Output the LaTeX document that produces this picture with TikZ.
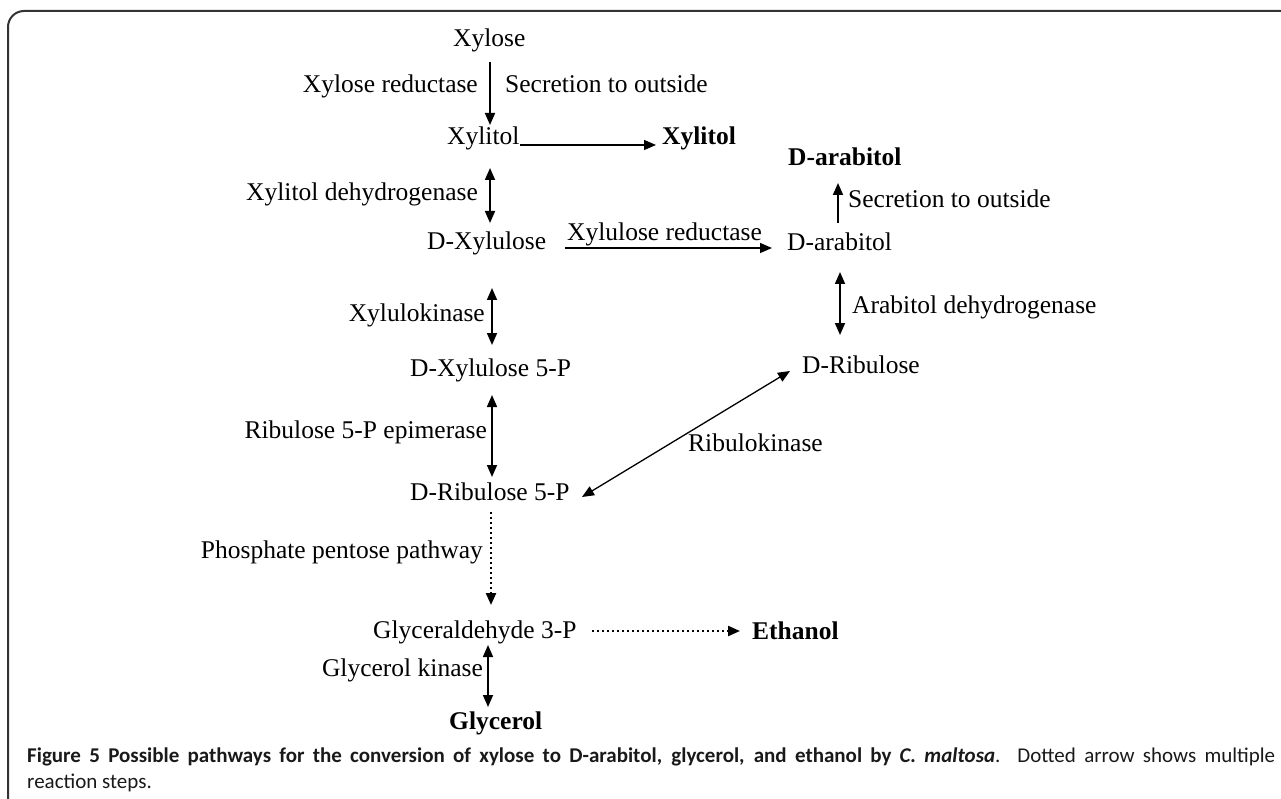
\documentclass[tikz,border=0pt]{standalone}
\usepackage{fontspec}
\setmainfont{Liberation Serif}
\newfontfamily\capfont{Carlito}
\usetikzlibrary{arrows.meta,calc}
\tikzset{
  lbl/.style={inner sep=0pt, font=\fontsize{25.5}{30}\selectfont},
  bld/.style={inner sep=0pt, font=\fontsize{25.5}{30}\selectfont\bfseries},
  tipx/.tip={Triangle[width=10pt,length=12pt]},
  arr/.style={line width=1.7pt, -tipx},
  thinarr/.style={line width=1.3pt, -tipx},
  darr/.style={line width=1.7pt, tipx-tipx},
  thindarr/.style={line width=1.3pt, tipx-tipx},
  dotarr/.style={line width=2.2pt, dash pattern=on 2pt off 3pt, -tipx},
  capstyle/.style={inner sep=0pt, text=black!90, font=\capfont\fontsize{21}{25}\selectfont},
  frame/.style={line width=2pt, draw=black!80, rounded corners=16pt}
}
\begin{document}
\begin{tikzpicture}[x=1pt,y=-1pt]
\useasboundingbox (0,0) rectangle (1281,799);
\begin{scope}
  \clip (0,0) rectangle (1281,799);
  \draw[frame] (8,830) -- (8,11) -- (1320,11);
\end{scope}

% nodes
\node[lbl, anchor=base west] (xylose) at (453,47) {Xylose};
\node[lbl, anchor=base east] (xr) at (478,93) {Xylose reductase};
\node[lbl, anchor=base west] (so1) at (505,93) {Secretion to outside};
\node[lbl, anchor=base west] (xylitol) at (447,145) {Xylitol};
\node[bld, anchor=base west] (xylitolB) at (662,145) {Xylitol};
\node[bld, anchor=base west] (darabB) at (788,166) {D-arabitol};
\node[lbl, anchor=base east] (xdh) at (478,201) {Xylitol dehydrogenase};
\node[lbl, anchor=base west] (so2) at (848,208) {Secretion to outside};
\node[lbl, anchor=base west] (xured) at (567,241) {Xylulose reductase};
\node[lbl, anchor=base west] (dxyl) at (427,250) {D-Xylulose};
\node[lbl, anchor=base west] (darab) at (787,251) {D-arabitol};
\node[lbl, anchor=base west] (adh) at (852,313) {Arabitol dehydrogenase};
\node[lbl, anchor=base east] (xk) at (485,321) {Xylulokinase};
\node[lbl, anchor=base west] (dribu) at (802,373) {D-Ribulose};
\node[lbl, anchor=base west] (dx5p) at (410,376) {D-Xylulose 5-P};
\node[lbl, anchor=base east] (r5pe) at (487,438) {Ribulose 5-P epimerase};
\node[lbl, anchor=base west] (rk) at (688,451) {Ribulokinase};
\node[lbl, anchor=base west] (dr5p) at (410,500) {D-Ribulose 5-P};
\node[lbl, anchor=base east] (ppp) at (483,558) {Phosphate pentose pathway};
\node[lbl, anchor=base west] (g3p) at (373,638) {Glyceraldehyde 3-P};
\node[bld, anchor=base west] (ethanol) at (752,639) {Ethanol};
\node[lbl, anchor=base east] (gk) at (483,676) {Glycerol kinase};
\node[bld, anchor=base west] (glycerol) at (449,729) {Glycerol};

% connectors
\draw[arr] ($(xylose.base west)+(37,15)$) -- ($(xylitol.base west)+(43,-20)$);
\draw[thinarr] ($(xylitol.base west)+(73,0)$) -- ($(xylitolB.base west)+(-6,0)$);
\draw[darr] ($(xylitol.base west)+(43,23)$) -- ($(dxyl.base west)+(63,-27)$);
\draw[thinarr] ($(dxyl.base west)+(138,-2)$) -- ($(darab.base west)+(-15,-3)$);
\draw[arr] ($(darab.base west)+(51,-28)$) -- ($(darabB.base west)+(50,17)$);
\draw[darr] ($(darab.base west)+(53,21)$) -- ($(dribu.base west)+(38,-38)$);
\draw[darr] ($(dxyl.base west)+(65,38)$) -- ($(dx5p.base west)+(82,-31)$);
\draw[darr] ($(dx5p.base west)+(82,19)$) -- ($(dr5p.base west)+(82,-23)$);
\draw[thindarr] ($(dribu.base west)+(-12,-2)$) -- ($(dr5p.base west)+(172,-3)$);
\draw[dotarr] ($(dr5p.base west)+(81,12)$) -- ($(g3p.base west)+(118,-33)$);
\draw[dotarr] ($(g3p.base west)+(219,-7)$) -- ($(ethanol.base west)+(-12,-8)$);
\draw[darr] ($(g3p.base west)+(115,7)$) -- ($(glycerol.base west)+(39,-22)$);

% caption
\node[capstyle, anchor=base west] (cap1) at (27,762)
  {\makebox[1248pt][s]{\textbf{Figure 5 Possible pathways for the conversion of xylose to D-arabitol, glycerol, and ethanol by \textit{C. maltosa}}. Dotted arrow shows multiple}};
\node[capstyle, anchor=base west] (cap2) at (27,788) {reaction steps.};
\end{tikzpicture}
\end{document}
